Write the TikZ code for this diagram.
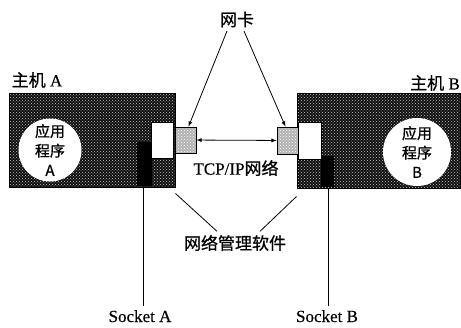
\documentclass[tikz,border=0pt]{standalone}
\usepackage{fontspec}
\setmainfont{Liberation Serif}[FakeBold=0.4]
\newfontfamily\cjk{Noto Sans CJK SC}[FakeBold=0.8]
\usetikzlibrary{patterns}

\def\zeiger#1#2{\draw[->] #1 -- #2;}
\def\linie#1#2{\draw #1 -- #2;}

\tikzset{
  rechner/.style={rectangle,draw=black,line width=1pt,inner sep=0pt,
    preaction={fill=black!94},pattern=crosshatch dots,pattern color=gray!45},
  karte/.style={rectangle,draw=black,line width=0.8pt,inner sep=0pt,
    minimum width=21pt,minimum height=26pt,
    preaction={fill=gray!60},pattern=crosshatch dots,pattern color=white},
  puffer/.style={rectangle,draw=black,fill=white,inner sep=0pt,
    minimum width=22pt,minimum height=36pt},
  prog/.style={circle,fill=white,inner sep=0pt,align=center,
    font=\cjk\fontsize{15}{19.5}\selectfont},
}

\begin{document}
\begin{tikzpicture}[x=1pt,y=-1pt,>=latex,line width=0.8pt,
  font=\fontsize{17}{20}\selectfont]
\useasboundingbox (0,0) rectangle (461,327);
% Rechner A und B
\coordinate (HA) at (92,140);
\coordinate (HB) at (378.5,140.5);
\node[rechner,minimum width=166pt,minimum height=94pt] (hostA) at (HA) {};
\node[rechner,minimum width=163pt,minimum height=95pt] (hostB) at (HB) {};
\fill[black] (137,142) rectangle (152,186);
\fill[black] (321,156) rectangle (334,187);
\node[prog,minimum size=63pt] (appA) at (50,150) {应用\\程序\\A};
\node[prog,minimum size=68pt] (appB) at (417,152) {应用\\程序\\B};
\node[puffer] (bufA) at (162.5,140) {};
\node[puffer,minimum width=23pt,minimum height=37pt] (bufB) at (309.5,140.5) {};
\node[karte] (nicA) at (185.5,140) {};
\node[karte,minimum height=27pt] (nicB) at (287.5,140.5) {};
% Beschriftungen
\node (nameA) at (37,80) {{\cjk 主机} A};
\node (nameB) at (435,83) {{\cjk 主机} B};
\node[font=\cjk\fontsize{17}{20}\selectfont] (wk) at (237,19.5) {网卡};
\node (tcp) at (236,168) {TCP/IP{\cjk 网络}};
\node[font=\cjk\fontsize{17}{20}\selectfont] (nms) at (235,243) {网络管理软件};
\node[anchor=base] (sockA) at (140,322) {Socket A};
\node[anchor=base] (sockB) at (327,322) {Socket B};
% Verbindungen
\zeiger{([xshift=-10pt]wk.south)}{([xshift=3pt]nicA.north)}
\zeiger{([xshift=7pt]wk.south)}{([xshift=-2pt]nicB.north)}
\draw[<->] (nicA) -- (nicB);
\linie{([yshift=-6pt]hostA.south east)}{([xshift=-18pt]nms.north)}
\linie{([yshift=-8pt]hostB.south west)}{([xshift=25pt]nms.north)}
\coordinate (SA) at (143,187);
\coordinate (SB) at (328,188);
\linie{(SA)}{(sockA.north -| SA)}
\linie{(SB)}{(sockB.north -| SB)}
\end{tikzpicture}
\end{document}
